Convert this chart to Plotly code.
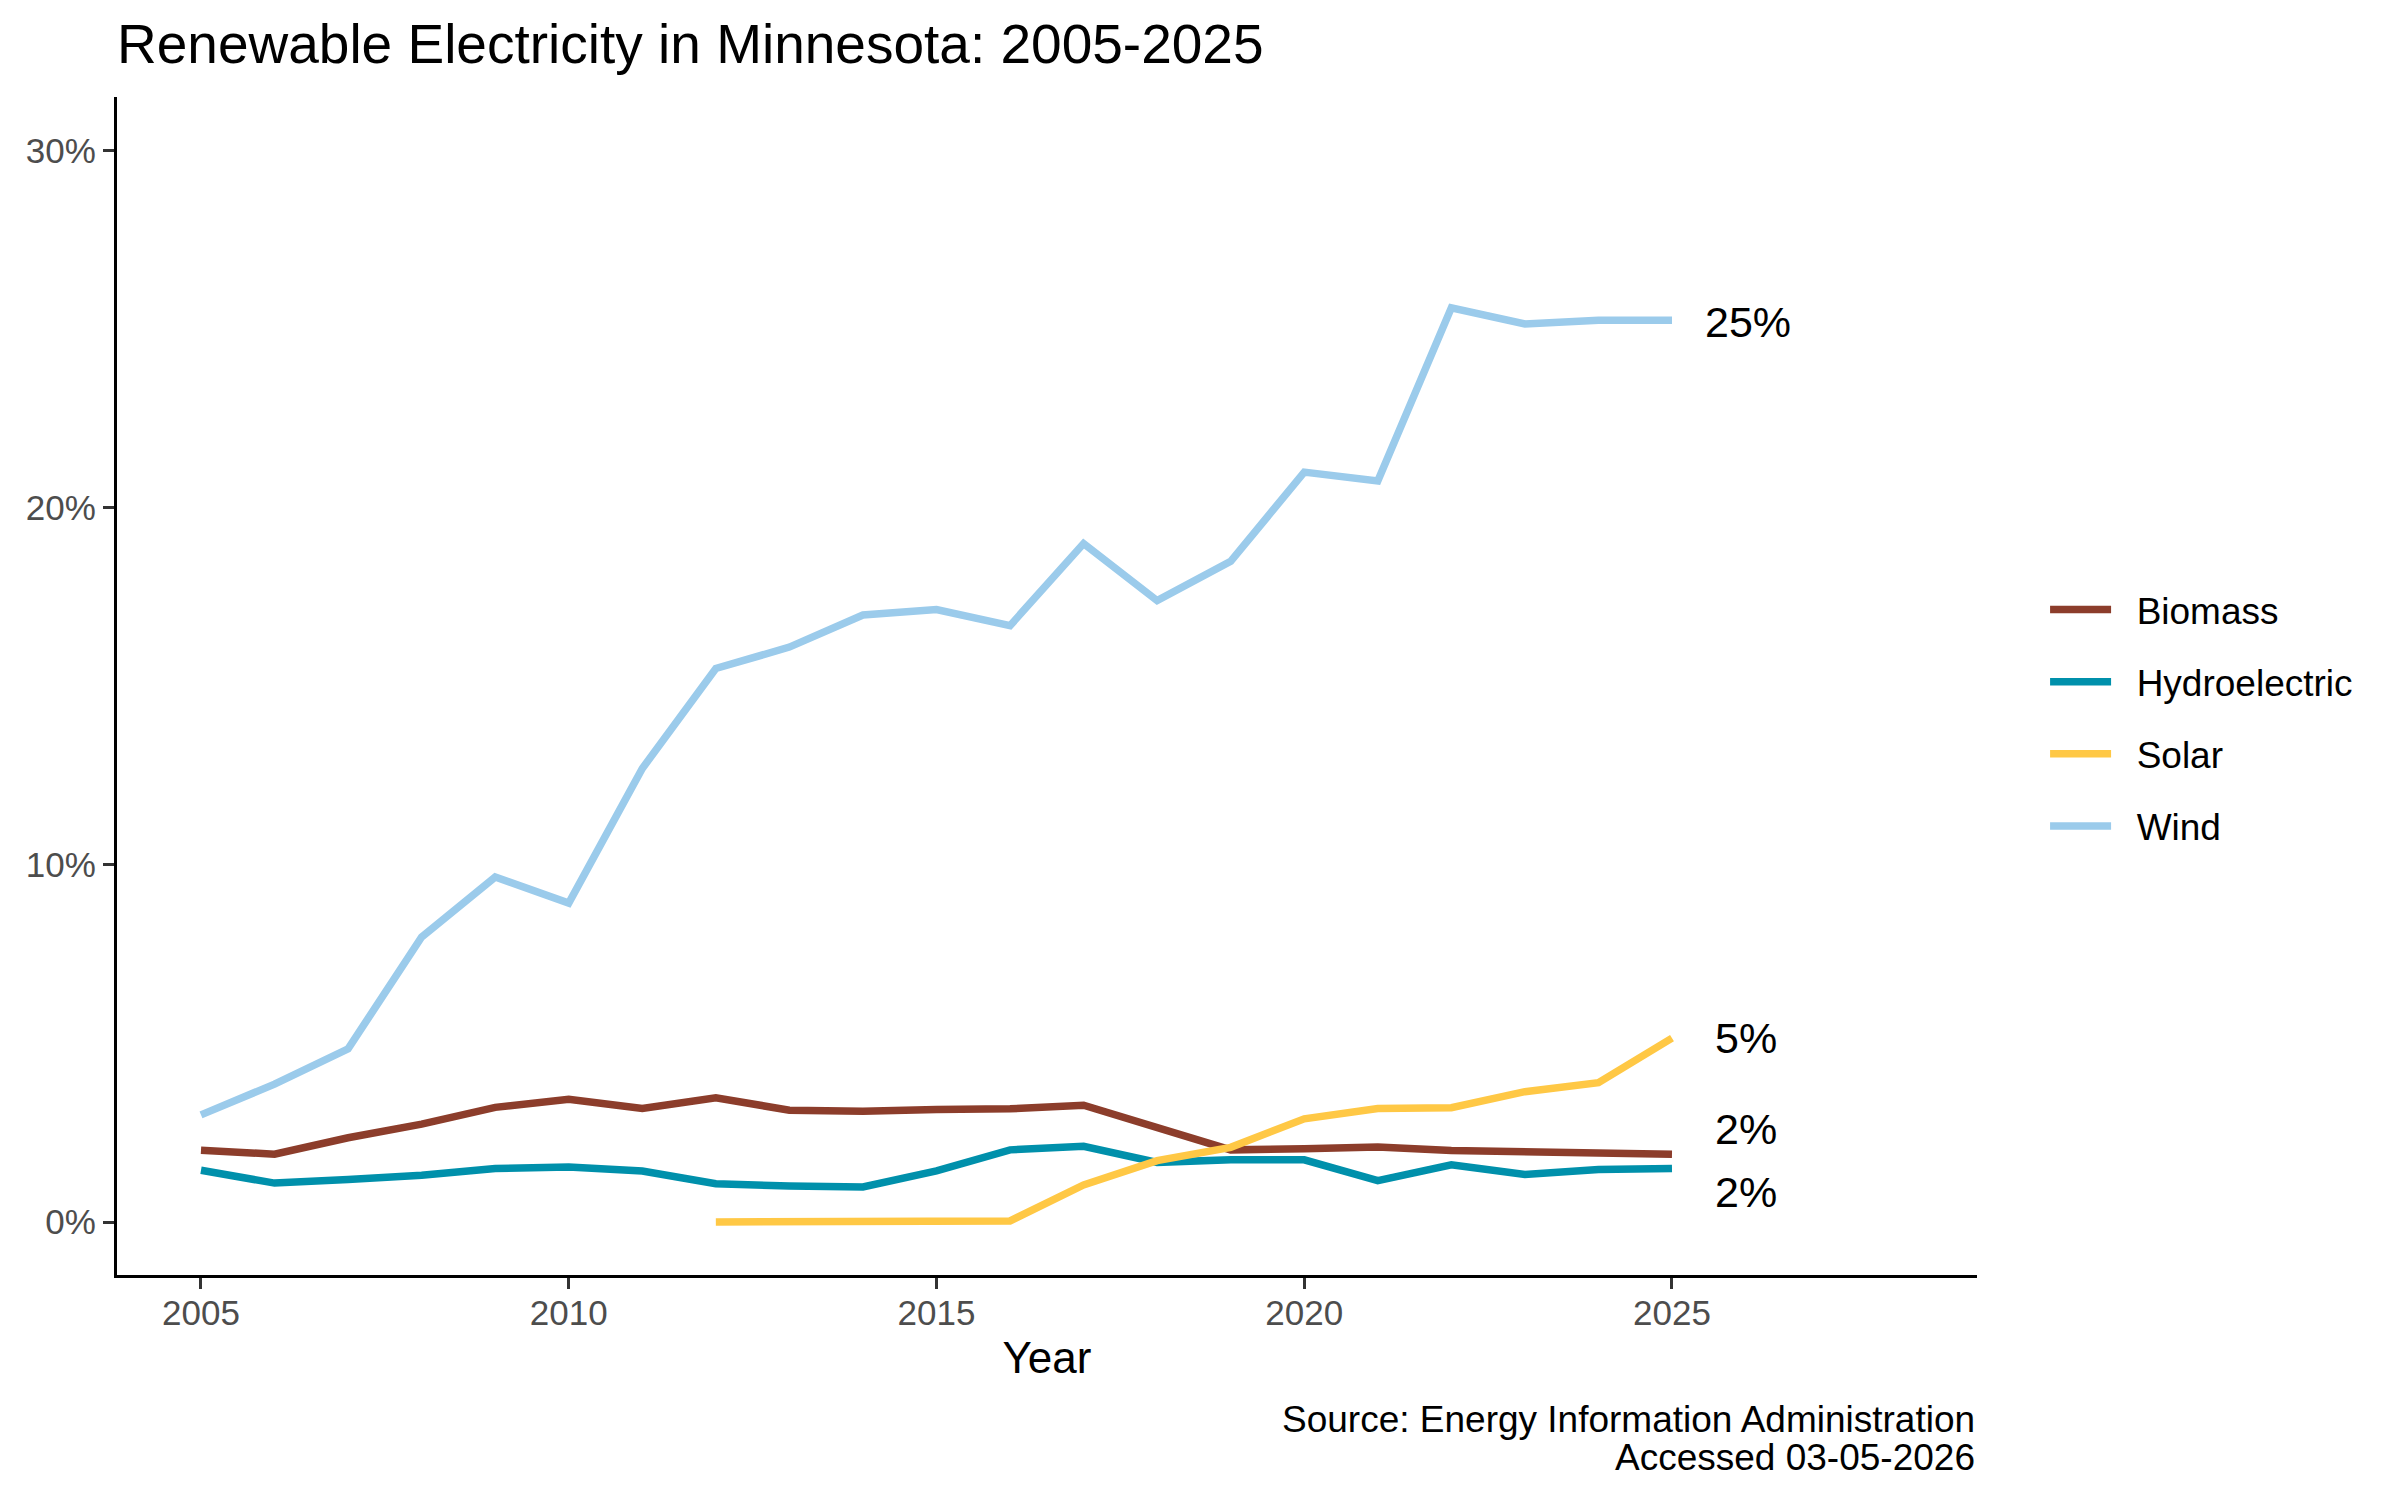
import plotly.graph_objects as go

years = list(range(2005, 2026))
solar_years = list(range(2012, 2026))

biomass = [2.01, 1.90, 2.36, 2.74, 3.21, 3.44, 3.18, 3.48, 3.13, 3.10, 3.15, 3.17, 3.27,
           2.64, 2.02, 2.05, 2.10, 2.00, 1.97, 1.97, 1.90]
hydro = [1.45, 1.09, 1.19, 1.31, 1.50, 1.54, 1.43, 1.07, 1.01, 0.98, 1.43, 2.02, 2.12,
         1.67, 1.74, 1.74, 1.16, 1.60, 1.33, 1.47, 1.50]
solar = [0.0, 0.0, 0.0, 0.0, 0.03, 1.04, 1.72, 2.09, 2.89, 3.18, 3.20, 3.65, 3.90, 5.15]
wind = [3.00, 3.86, 4.85, 7.98, 9.66, 8.93, 12.70, 15.50, 16.10, 17.00, 17.15, 16.70, 19.00,
        17.40, 18.50, 21.00, 20.75, 25.60, 25.15, 25.25, 25.25]

series_names = ["Biomass", "Hydroelectric", "Solar", "Wind"]
series_colors = ["#8C3D2B", "#0090AB", "#FFC845", "#9BCBEB"]

end_labels = ["2%", "2%", "5%", "25%"]
label_y = [2.60, 0.84, 5.15, 25.2]
label_dx = [0.56, 0.56, 0.56, 0.42]

caption_lines = ["Source: Energy Information Administration", "Accessed 03-05-2026"]

xticks = [2005, 2010, 2015, 2020, 2025]
yticks = [0, 10, 20, 30]

FONT = "Liberation Sans, Arial, sans-serif"
NBSP = "\u00a0"

fig = go.Figure()
xs = [years, years, solar_years, years]
ys = [biomass, hydro, solar, wind]
for name, color, x, y in zip(series_names, series_colors, xs, ys):
    fig.add_trace(go.Scatter(x=x, y=y, mode="lines", name=NBSP * 2 + name, legendgroup=name,
                             line=dict(color=color, width=7.5)))

for txt, yv, dx, x in zip(end_labels, label_y, label_dx, xs):
    fig.add_annotation(x=x[-1] + dx, y=yv, xref="x", yref="y", text=txt, showarrow=False,
                       xanchor="left", yanchor="middle",
                       font=dict(family=FONT, size=43, color="#000000"))

for line, yp in zip(caption_lines, [-0.1225, -0.1545]):
    fig.add_annotation(x=1, y=yp, xref="paper", yref="paper", text=line,
                       showarrow=False, xanchor="right", yanchor="middle", align="right",
                       font=dict(family=FONT, size=37, color="#000000"))

fig.update_layout(
    width=2400, height=1500,
    margin=dict(l=117, r=423, t=97, b=225),
    paper_bgcolor="white", plot_bgcolor="white",
    title=dict(text="Renewable Electricity in Minnesota: 2005-2025",
               x=0, xref="paper", xanchor="left", y=0.971, yanchor="middle",
               font=dict(family=FONT, size=55, color="#000000")),
    legend=dict(x=1.0366, xanchor="left", y=0.4728, yanchor="middle",
                font=dict(family=FONT, size=37, color="#000000"),
                tracegroupgap=21, itemwidth=61, bgcolor="rgba(0,0,0,0)"),
    xaxis=dict(range=[2003.858, 2029.147], tickvals=xticks, ticktext=[str(v) for v in xticks],
               showgrid=False, zeroline=False, showline=True, linecolor="#000000", linewidth=3.3,
               ticks="outside", ticklen=11, tickwidth=3.3, tickcolor="#333333",
               ticklabelstandoff=-6,
               tickfont=dict(family=FONT, size=35, color="#4D4D4D"),
               title=dict(text="Year", standoff=12,
                          font=dict(family=FONT, size=44, color="#000000"))),
    yaxis=dict(range=[-1.484, 31.504], tickvals=yticks, ticktext=[f"{v}%" for v in yticks],
               showgrid=False, zeroline=False, showline=True, linecolor="#000000", linewidth=3.3,
               ticks="outside", ticklen=11, tickwidth=3.3, tickcolor="#333333",
               tickfont=dict(family=FONT, size=35, color="#4D4D4D")),
)

fig.write_html("out.html", config={"displayModeBar": False},
               post_script="document.body.style.margin='0';document.body.style.overflow='hidden';")
